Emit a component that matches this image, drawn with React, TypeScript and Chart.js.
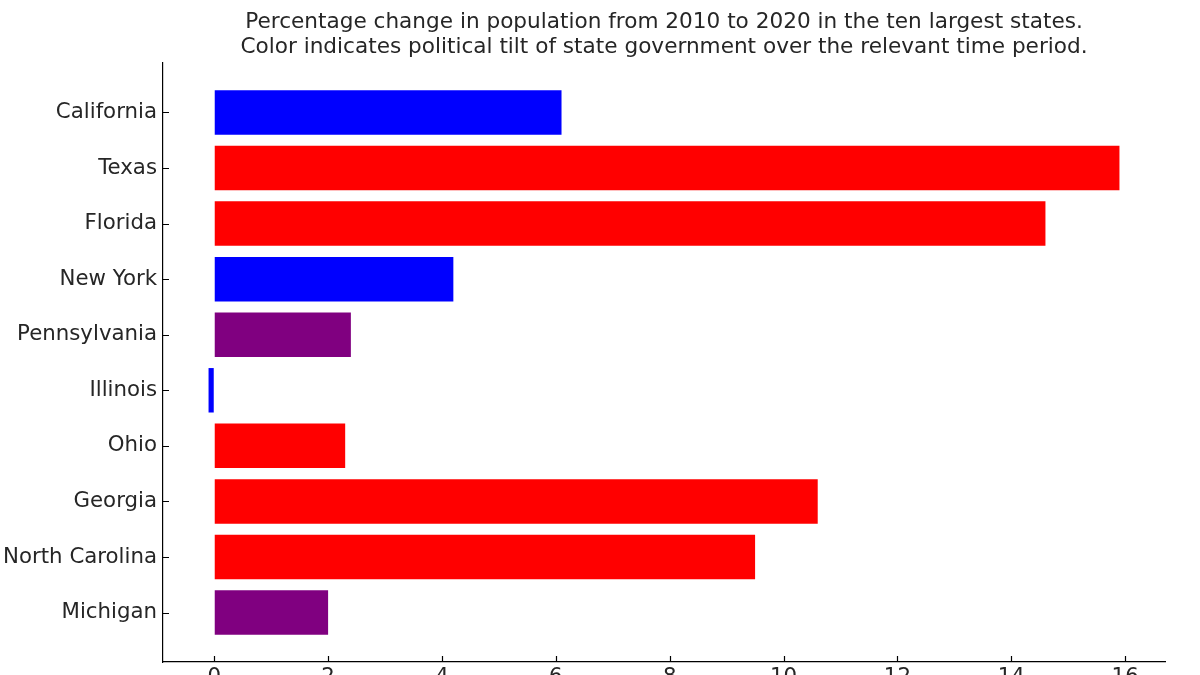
import React, { useEffect, useRef } from "react";
import { Chart, registerables } from "chart.js";

Chart.register(...registerables);

const categories = [
  "California",
  "Texas",
  "Florida",
  "New York",
  "Pennsylvania",
  "Illinois",
  "Ohio",
  "Georgia",
  "North Carolina",
  "Michigan",
];
const changes = [6.1, 15.9, 14.6, 4.2, 2.4, -0.1, 2.3, 10.6, 9.5, 2.0];
const tilts = ["D", "R", "R", "D", "M", "D", "R", "R", "R", "M"];
const tiltColors: Record<string, string> = { D: "#0000ff", R: "#ff0000", M: "#800080" };
const xTicks = [0, 2, 4, 6, 8, 10, 12, 14, 16];
const titleLines = [
  "Percentage change in population from 2010 to 2020 in the ten largest states.",
  "Color indicates political tilt of state government over the relevant time period.",
];

const FONT = "'DejaVu Sans', sans-serif";
const TEXT = "#262626";

const inwardTicks = {
  id: "inwardTicks",
  afterDraw(chart: any) {
    const { ctx, chartArea, scales } = chart;
    ctx.save();
    ctx.strokeStyle = "#000";
    ctx.lineWidth = 1.2;
    ctx.beginPath();
    for (const t of scales.x.ticks) {
      const px = Math.round(scales.x.getPixelForValue(t.value)) + 0.5;
      ctx.moveTo(px, chartArea.bottom);
      ctx.lineTo(px, chartArea.bottom - 6);
    }
    for (const t of scales.y.ticks) {
      const py = Math.round(scales.y.getPixelForValue(t.value)) + 0.5;
      ctx.moveTo(chartArea.left, py);
      ctx.lineTo(chartArea.left + 6, py);
    }
    ctx.stroke();
    ctx.restore();
  },
};

export default function App() {
  const ref = useRef<HTMLCanvasElement | null>(null);

  useEffect(() => {
    document.body.style.margin = "0";
    document.body.style.overflow = "hidden";
    const canvas = ref.current!;
    const chart = new Chart(canvas, {
      type: "bar",
      data: {
        datasets: [
          {
            data: changes.map((v, i) => ({ x: v, y: i })),
            backgroundColor: tilts.map((t) => tiltColors[t]),
            borderWidth: 0,
            barPercentage: 0.8,
            categoryPercentage: 1.0,
          },
        ],
      },
      options: {
        indexAxis: "y",
        animation: false,
        responsive: false,
        maintainAspectRatio: false,
        layout: { padding: { left: 0, right: 35, top: 0, bottom: 0 } },
        plugins: {
          legend: { display: false },
          tooltip: { enabled: false },
          title: {
            display: true,
            text: titleLines,
            fullSize: false,
            color: TEXT,
            font: { family: FONT, size: 21.6, weight: "normal", lineHeight: "25px" },
            padding: { top: 10, bottom: 3 },
          },
        },
        scales: {
          x: {
            type: "linear",
            min: -0.9,
            max: 16.7,
            offset: false,
            afterBuildTicks: (s: any) => {
              s.ticks = xTicks.map((v) => ({ value: v }));
            },
            afterFit: (s: any) => {
              s.height = 13;
              s.paddingLeft = 0;
              s.paddingRight = 0;
            },
            grid: { drawOnChartArea: false, drawTicks: false },
            border: { display: true, color: "#000", width: 1.2 },
            ticks: {
              color: TEXT,
              font: { family: FONT, size: 21.3 },
              padding: 3,
              maxRotation: 0,
              autoSkip: false,
              callback: (v: any) => String(v),
            },
          },
          y: {
            type: "linear",
            reverse: true,
            offset: false,
            min: -0.89,
            max: 9.89,
            afterBuildTicks: (s: any) => {
              s.ticks = categories.map((_, i) => ({ value: i }));
            },
            afterFit: (s: any) => {
              s.width = 163;
              s.paddingTop = 0;
              s.paddingBottom = 0;
            },
            grid: { drawOnChartArea: false, drawTicks: false },
            border: { display: true, color: "#000", width: 1.2 },
            ticks: {
              color: TEXT,
              font: { family: FONT, size: 21.3 },
              padding: 6,
              autoSkip: false,
              callback: (v: any) => categories[v as number] ?? "",
            },
          },
        },
      },
      plugins: [inwardTicks],
    });
    return () => chart.destroy();
  }, []);

  return <canvas ref={ref} width={1200} height={675} style={{ display: "block", width: 1200, height: 675 }} />;
}
